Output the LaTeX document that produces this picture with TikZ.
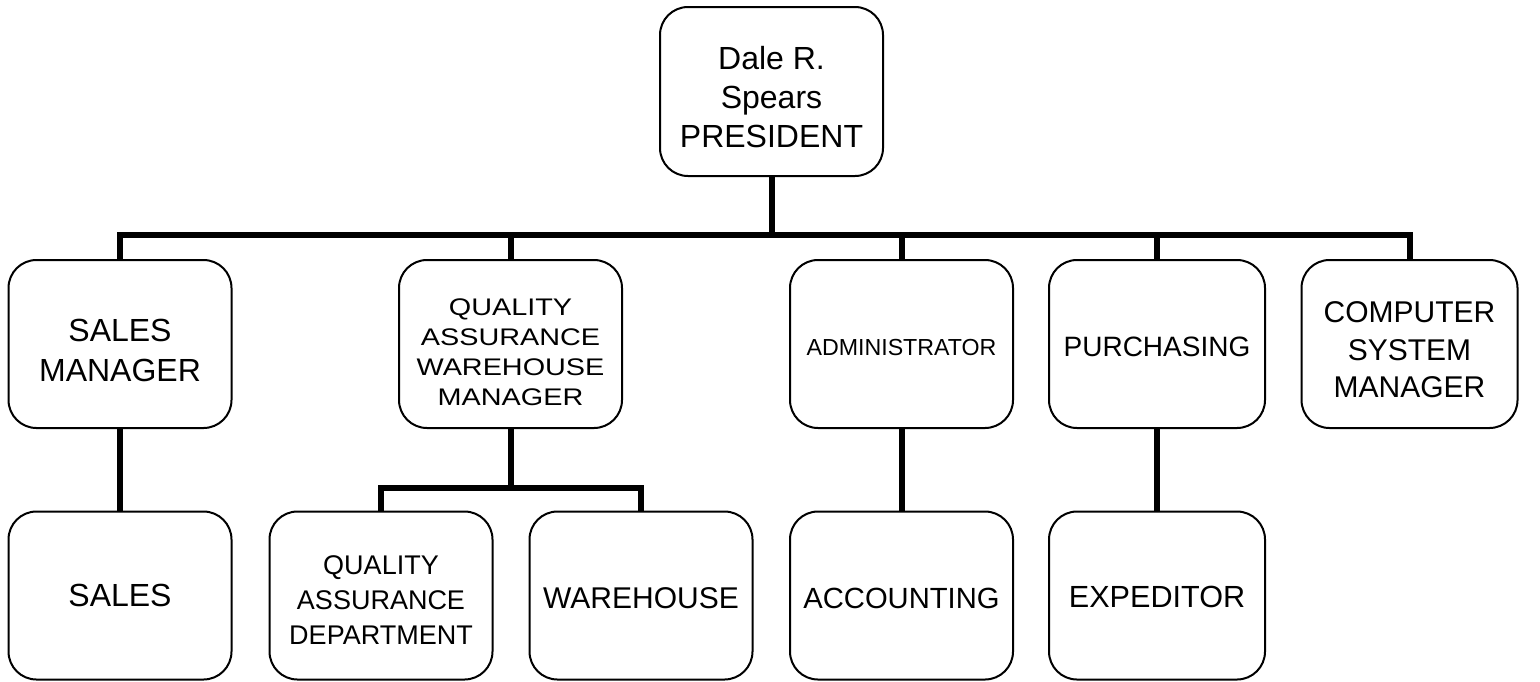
\documentclass[tikz,border=0pt]{standalone}
\usepackage{fontspec}
\setmainfont{Liberation Sans}
\newfontfamily\widesans[FakeStretch=1.2]{Liberation Sans}

\newcommand{\fs}[2]{\fontsize{#1}{#2}\selectfont}

\begin{document}
\begin{tikzpicture}[x=0.5pt,y=-0.5pt,
    post/.style={draw,line width=1pt,rounded corners=14pt,
      inner sep=0pt,minimum width=111.5pt,minimum height=84pt},
    narrow/.style={minimum width=108pt},
    say/.style={align=center,inner sep=0pt,yshift=-#1},
    say/.default=1.5pt,
    link/.style={line width=3pt}]
  \useasboundingbox (0,0) rectangle (1540,681);

  \node[post,minimum height=84.5pt,
    label={[say=3pt,font=\fs{16}{19.5}]center:Dale R.\\Spears\\PRESIDENT}] (pres) at (771.5,91.5) {};

  \node[post,label={[say=3pt,font=\fs{16}{20}]center:SALES\\MANAGER}] (smgr) at (120,344) {};
  \node[post,label={[say=4pt,font=\widesans\fs{12}{15}]center:QUALITY\\ASSURANCE\\WAREHOUSE\\MANAGER}] (qamgr) at (510.5,344) {};
  \node[post,label={[say=2pt,font=\fs{11.6}{14}]center:ADMINISTRATOR}] (admin) at (901.5,344) {};
  \node[post,narrow,label={[say,font=\fs{14}{17}]center:PURCHASING}] (purch) at (1157,344) {};
  \node[post,narrow,label={[say=3pt,font=\fs{15}{18.75}]center:COMPUTER\\SYSTEM\\MANAGER}] (csm) at (1409.5,344) {};

  \node[post,label={[say=0pt,font=\fs{16}{19}]center:SALES}] (sales) at (120,595.5) {};
  \node[post,label={[say=2.5pt,font=\fs{13.5}{17.5}]center:QUALITY\\ASSURANCE\\DEPARTMENT}] (qadept) at (381,595.5) {};
  \node[post,label={[say,font=\fs{15}{18}]center:WAREHOUSE}] (whouse) at (641,595.5) {};
  \node[post,label={[say,font=\fs{14.6}{18}]center:ACCOUNTING}] (acct) at (901.5,595.5) {};
  \node[post,narrow,label={[say=0.75pt,font=\fs{15.3}{18}]center:EXPEDITOR}] (exped) at (1157,595.5) {};

  \coordinate (bus) at (771.5,235);
  \coordinate (qabus) at (510.5,488);

  \draw[link] (pres.south) -- (bus);
  \draw[link] (smgr.north) -- (smgr.north |- bus) -- (csm.north |- bus) -- (csm.north);
  \foreach \n in {qamgr,admin,purch}
    \draw[link] (\n.north) -- (\n.north |- bus);

  \draw[link] (smgr) -- (sales);
  \draw[link] (qamgr.south) -- (qabus);
  \draw[link] (qadept.north) -- (qadept.north |- qabus) -- (whouse.north |- qabus) -- (whouse.north);
  \draw[link] (admin) -- (acct);
  \draw[link] (purch) -- (exped);
\end{tikzpicture}
\end{document}
